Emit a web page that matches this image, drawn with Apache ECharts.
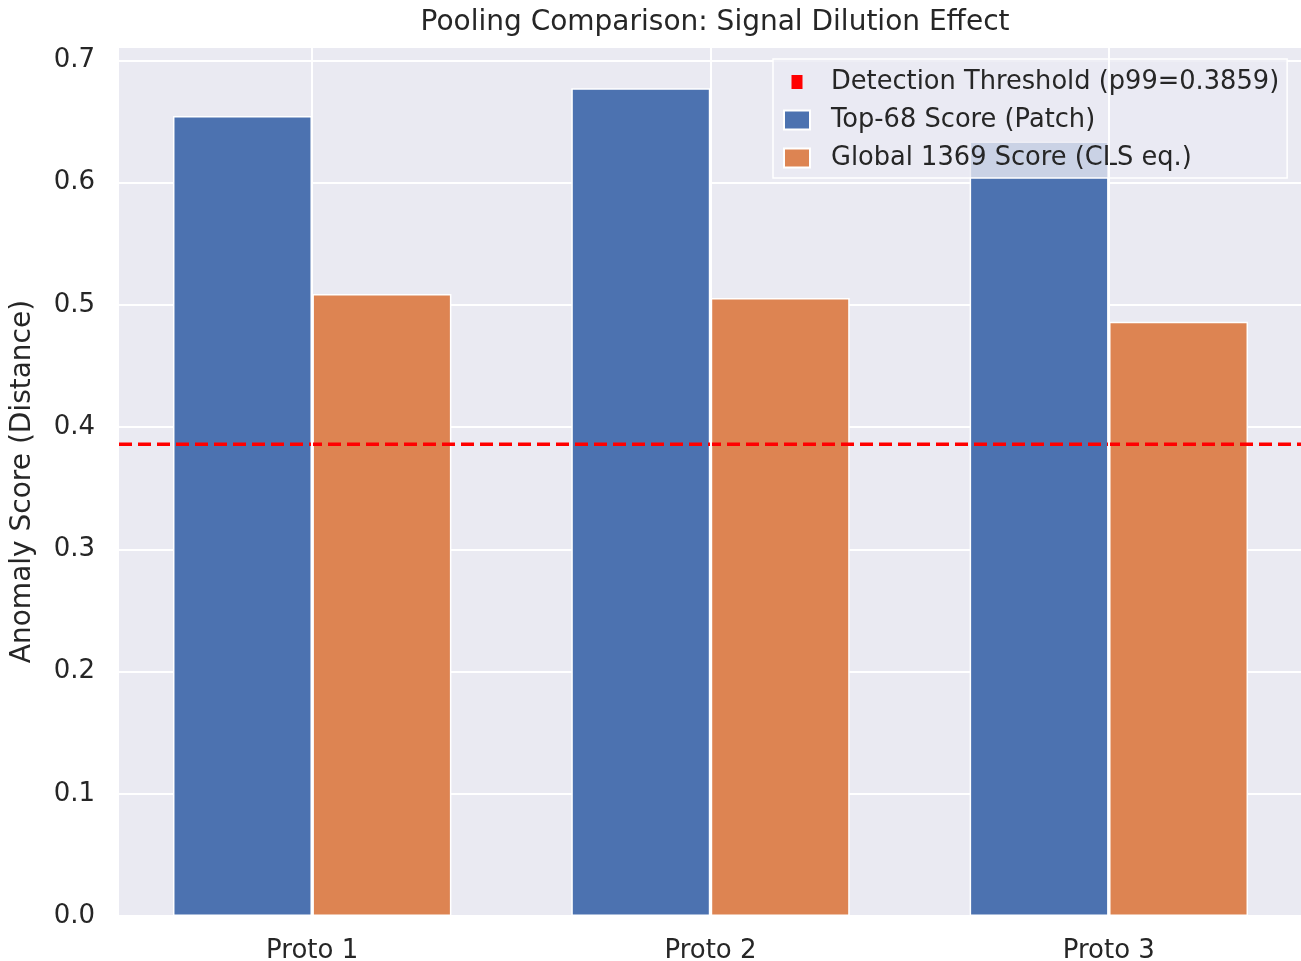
<!DOCTYPE html>
<html>
<head>
<meta charset="utf-8">
<title>Pooling Comparison</title>
<script src="https://cdn.jsdelivr.net/npm/echarts@6/dist/echarts.min.js"></script>
<style>
  html, body { margin: 0; padding: 0; background: #fff; }
  #chart { width: 1301px; height: 961px; }
</style>
</head>
<body>
<div id="chart"></div>
<script>
// data
const categories = ['Proto 1', 'Proto 2', 'Proto 3'];
const topKScores = [0.6546, 0.6773, 0.6336];
const globalScores = [0.5090, 0.5057, 0.4863];
const threshold = 0.3859;
const yTicks = [0.0, 0.1, 0.2, 0.3, 0.4, 0.5, 0.6, 0.7];

const barWidthUnits = 0.35;   // matplotlib bar width, in category units
const xMin = -0.485, xMax = 2.49;
const font = 'DejaVu Sans';
const textColor = '#262626';

const myChart = echarts.init(document.getElementById('chart'));

const option = {
  animation: false,
  backgroundColor: '#fff',
  textStyle: { fontFamily: font, color: textColor },
  title: {
    text: 'Pooling Comparison: Signal Dilution Effect',
    left: 710, top: 4, textAlign: 'center',
    textStyle: { fontFamily: font, fontSize: 28, fontWeight: 'normal', color: textColor }
  },
  grid: {
    left: 119, top: 47, right: -3, bottom: 45,
    outerBoundsMode: 'none',
    show: true, backgroundColor: '#eaeaf2', borderWidth: 0
  },
  legend: {
    orient: 'vertical',
    left: 773, top: 59,
    padding: [10, 8, 7, 10],
    itemGap: 12,
    itemWidth: 26, itemHeight: 19,
    backgroundColor: 'rgba(234,234,242,0.8)',
    borderColor: '#ffffff', borderWidth: 1.5, borderRadius: 0,
    textStyle: { fontFamily: font, fontSize: 25.7, color: textColor, padding: [0, 0, 0, 16] },
    data: [
      { name: 'Detection Threshold (p99=0.3859)', icon: 'path://M0,0M26,19M7.5,2.5h11v14h-11z',
        itemStyle: { color: 'red', borderWidth: 0 } },
      { name: 'Top-68 Score (Patch)', icon: 'rect' },
      { name: 'Global 1369 Score (CLS eq.)', icon: 'rect' }
    ]
  },
  xAxis: {
    type: 'value', min: xMin, max: xMax,
    axisLine: { show: false }, axisTick: { show: false },
    splitLine: { show: false },
    axisLabel: {
      customValues: categories.map((c, i) => i),
      formatter: v => categories[Math.round(v)] || '',
      fontFamily: font, fontSize: 26, color: textColor, margin: 22
    }
  },
  yAxis: {
    type: 'value', min: 0, max: 0.711, interval: 0.1,
    name: 'Anomaly Score (Distance)', nameLocation: 'middle', nameGap: 82,
    nameTextStyle: { fontFamily: font, fontSize: 28, color: textColor },
    axisLine: { show: false }, axisTick: { show: false },
    axisLabel: {
      customValues: yTicks,
      formatter: v => v.toFixed(1),
      fontFamily: font, fontSize: 26, color: textColor, margin: 24
    },
    splitLine: { show: true, lineStyle: { color: '#ffffff', width: 2 } }
  },
  series: [
    {
      // vertical white grid lines at the category centres
      name: 'xgrid', type: 'line', data: [], z: 1, silent: true,
      markLine: {
        symbol: 'none', silent: true, label: { show: false },
        lineStyle: { color: '#ffffff', width: 2, type: 'solid' },
        data: categories.map((c, i) => ({ xAxis: i }))
      }
    },
    {
      name: 'Top-68 Score (Patch)', type: 'bar', z: 2,
      barWidth: 139, barGap: '-100%',
      itemStyle: { color: '#4c72b0', borderColor: '#ffffff', borderWidth: 1.5 },
      data: categories.map((c, i) => [i - barWidthUnits / 2, topKScores[i]])
    },
    {
      name: 'Global 1369 Score (CLS eq.)', type: 'bar', z: 2,
      barWidth: 139, barGap: '-100%',
      itemStyle: { color: '#dd8452', borderColor: '#ffffff', borderWidth: 1.5 },
      data: categories.map((c, i) => [i + barWidthUnits / 2, globalScores[i]])
    },
    {
      name: 'Detection Threshold (p99=0.3859)', type: 'line', z: 3,
      symbol: 'none', color: 'red',
      lineStyle: { color: 'red', width: 3.5, type: [13, 6] },
      data: [[xMin, threshold], [xMax, threshold]]
    }
  ]
};

myChart.setOption(option);
</script>
</body>
</html>
